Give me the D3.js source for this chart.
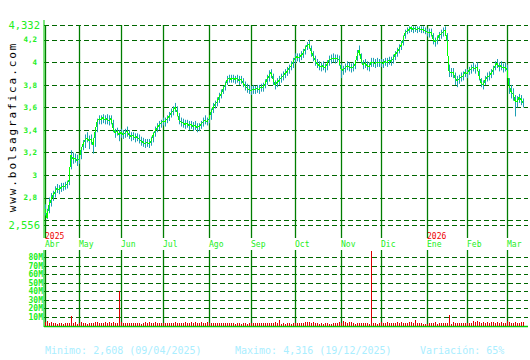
<!DOCTYPE html>
<html>
<head>
<meta charset="utf-8">
<script src="https://cdn.jsdelivr.net/npm/d3@7"></script>
<style>
  body { margin: 0; background: #fff; }
  svg { display: block; }
</style>
</head>
<body>
<script>
// Daily closes (one per trading day, Apr 2025 - Mar 2026)
const closes = [
  2.70,2.62,2.73,2.78,2.82,2.85,2.88,2.87,2.89,2.90,
  2.90,2.92,2.95,3.18,3.14,3.15,3.13,3.14,3.22,3.27,
  3.31,3.33,3.30,3.32,3.27,3.38,3.47,3.50,3.49,3.51,
  3.49,3.50,3.48,3.50,3.42,3.37,3.39,3.36,3.38,3.36,
  3.37,3.39,3.36,3.34,3.35,3.33,3.34,3.32,3.30,3.29,
  3.28,3.29,3.28,3.30,3.35,3.39,3.42,3.44,3.46,3.48,
  3.47,3.50,3.52,3.55,3.57,3.60,3.56,3.49,3.47,3.46,
  3.45,3.46,3.44,3.45,3.43,3.44,3.42,3.43,3.45,3.47,
  3.49,3.47,3.50,3.56,3.60,3.63,3.65,3.69,3.72,3.76,
  3.80,3.84,3.86,3.85,3.86,3.85,3.86,3.84,3.85,3.82,
  3.79,3.77,3.76,3.75,3.76,3.76,3.77,3.76,3.78,3.78,
  3.81,3.85,3.88,3.91,3.85,3.80,3.82,3.84,3.86,3.88,
  3.90,3.92,3.95,3.97,4.00,4.04,4.05,4.04,4.06,4.08,
  4.12,4.15,4.16,4.10,4.06,4.02,3.99,3.97,3.96,3.97,
  3.95,3.98,4.02,4.03,4.04,4.03,4.04,4.02,3.94,3.93,
  3.95,3.97,3.96,3.95,3.96,3.98,4.06,4.11,4.03,3.98,
  3.99,3.97,3.96,4.00,4.00,3.99,4.00,4.00,4.00,3.99,
  4.01,4.00,4.02,4.01,4.03,4.07,4.09,4.12,4.15,4.20,
  4.26,4.28,4.29,4.31,4.29,4.30,4.29,4.30,4.29,4.29,
  4.28,4.27,4.26,4.27,4.21,4.18,4.20,4.24,4.25,4.27,
  4.29,4.19,3.92,3.91,3.91,3.86,3.84,3.85,3.87,3.88,
  3.91,3.90,3.93,3.94,3.96,3.94,3.96,3.88,3.82,3.80,
  3.84,3.87,3.88,3.90,3.93,3.97,3.99,3.96,3.97,3.95,
  3.96,3.93,3.80,3.74,3.72,3.66,3.65,3.69,3.67,3.64
];

const highs = [
  2.74,2.70,2.80,2.84,2.86,2.90,2.92,2.91,2.93,2.93,
  2.94,2.95,2.99,3.22,3.20,3.19,3.18,3.17,3.25,3.31,
  3.36,3.38,3.35,3.36,3.33,3.42,3.50,3.53,3.53,3.54,
  3.53,3.54,3.53,3.53,3.49,3.41,3.42,3.40,3.41,3.40,
  3.41,3.43,3.40,3.38,3.38,3.37,3.37,3.36,3.34,3.33,
  3.32,3.32,3.32,3.34,3.38,3.43,3.46,3.48,3.49,3.51,
  3.51,3.53,3.56,3.59,3.61,3.64,3.61,3.55,3.51,3.50,
  3.49,3.49,3.48,3.48,3.47,3.48,3.46,3.46,3.48,3.51,
  3.53,3.51,3.53,3.59,3.64,3.66,3.69,3.73,3.76,3.79,
  3.83,3.88,3.89,3.89,3.89,3.88,3.89,3.88,3.88,3.86,
  3.83,3.81,3.80,3.79,3.80,3.79,3.80,3.80,3.81,3.82,
  3.85,3.89,3.93,3.94,3.90,3.84,3.86,3.88,3.90,3.92,
  3.94,3.96,3.98,4.01,4.04,4.08,4.08,4.08,4.10,4.12,
  4.15,4.18,4.20,4.15,4.10,4.06,4.03,4.01,4.00,4.01,
  3.99,4.02,4.06,4.07,4.08,4.07,4.07,4.06,3.99,3.97,
  3.99,4.01,4.00,3.99,4.00,4.02,4.11,4.15,4.08,4.02,
  4.03,4.01,4.00,4.04,4.04,4.03,4.04,4.03,4.03,4.03,
  4.04,4.04,4.05,4.05,4.07,4.10,4.13,4.16,4.19,4.24,
  4.29,4.31,4.32,4.32,4.32,4.32,4.32,4.32,4.32,4.32,
  4.31,4.30,4.30,4.30,4.26,4.22,4.24,4.27,4.29,4.31,
  4.32,4.26,3.98,3.95,3.95,3.91,3.88,3.89,3.91,3.92,
  3.94,3.94,3.96,3.98,4.00,3.98,4.00,3.94,3.86,3.84,
  3.88,3.91,3.92,3.94,3.97,4.01,4.03,4.00,4.01,3.99,
  4.00,3.98,3.86,3.80,3.77,3.71,3.70,3.72,3.71,3.68
];

const lows = [
  2.64,2.61,2.66,2.72,2.77,2.80,2.84,2.83,2.85,2.86,
  2.87,2.88,2.91,3.05,3.10,3.11,3.08,3.10,3.14,3.22,
  3.24,3.29,3.23,3.27,3.19,3.25,3.38,3.45,3.45,3.46,
  3.45,3.45,3.44,3.45,3.38,3.33,3.35,3.30,3.33,3.32,
  3.33,3.34,3.32,3.30,3.31,3.29,3.30,3.28,3.26,3.25,
  3.24,3.25,3.24,3.26,3.29,3.34,3.38,3.40,3.42,3.44,
  3.43,3.46,3.48,3.51,3.53,3.56,3.52,3.45,3.43,3.42,
  3.41,3.42,3.40,3.41,3.39,3.40,3.38,3.39,3.41,3.43,
  3.45,3.44,3.46,3.49,3.55,3.59,3.61,3.64,3.68,3.72,
  3.75,3.80,3.82,3.82,3.82,3.81,3.82,3.80,3.81,3.78,
  3.75,3.73,3.72,3.71,3.72,3.72,3.73,3.72,3.74,3.74,
  3.77,3.80,3.83,3.86,3.80,3.76,3.78,3.80,3.82,3.84,
  3.86,3.88,3.90,3.93,3.95,3.99,4.01,4.00,4.02,4.04,
  4.07,4.11,4.12,4.05,4.01,3.97,3.95,3.93,3.92,3.93,
  3.91,3.93,3.97,3.99,4.00,3.99,4.00,3.97,3.86,3.89,
  3.91,3.93,3.92,3.91,3.92,3.94,4.01,4.06,3.99,3.94,
  3.95,3.93,3.92,3.96,3.96,3.95,3.96,3.96,3.96,3.95,
  3.97,3.96,3.98,3.97,3.99,4.02,4.05,4.08,4.11,4.15,
  4.21,4.25,4.26,4.27,4.26,4.27,4.26,4.27,4.26,4.26,
  4.25,4.23,4.22,4.23,4.16,4.14,4.16,4.20,4.21,4.23,
  4.25,4.15,3.87,3.87,3.86,3.80,3.78,3.81,3.83,3.84,
  3.87,3.86,3.89,3.90,3.92,3.90,3.92,3.84,3.78,3.76,
  3.80,3.83,3.84,3.86,3.89,3.93,3.95,3.92,3.93,3.91,
  3.92,3.88,3.72,3.68,3.66,3.52,3.60,3.64,3.62,3.60
];

// Volume in millions
const volumes = [
  4,5,3,4,3,3,2,3,3,2,
  3,3,3,11,3,4,2,3,4,3,
  3,2,3,3,3,4,4,3,3,3,
  4,3,4,3,4,3,3,41,4,3,
  3,3,3,3,3,3,3,3,2,3,
  4,3,4,3,3,4,3,3,3,3,
  3,3,3,3,3,4,3,3,3,3,
  4,3,3,4,3,4,3,3,4,3,
  3,4,3,3,3,3,3,3,3,3,
  3,3,3,3,3,2,3,3,2,3,
  3,2,3,3,3,3,3,3,3,3,
  3,3,3,3,3,4,3,6,2,3,
  2,3,3,2,3,3,3,3,3,3,
  4,4,4,3,4,3,3,2,3,2,
  3,3,2,2,3,3,3,4,3,5,
  4,3,4,4,3,2,3,3,3,3,
  3,3,2,91,3,3,2,3,4,3,
  3,4,3,3,3,3,4,3,4,3,
  3,3,4,4,3,6,3,3,3,2,
  2,2,3,3,3,4,2,3,3,3,
  3,3,12,2,4,3,3,3,3,3,
  3,3,3,3,5,4,5,4,3,4,
  3,4,3,4,4,3,4,3,4,3,
  3,5,4,3,3,4,3,3,4,4
];

const monthLabels = ["Abr","May","Jun","Jul","Ago","Sep","Oct","Nov","Dic","Ene","Feb","Mar"];
const monthStart = [0,17,38,59,82,103,125,148,168,191,211,231];
const yearLabels = ["2025","2026"];
const yearStart = [0,191];

const priceMin = 2.556;
const priceMax = 4.332;
const priceTicks = [4.2,4,3.8,3.6,3.4,3.2,3,2.8];
const priceGrid = [4.332,4.2,4,3.8,3.6,3.4,3.2,3,2.8,2.6,2.556];
const volTicks = [10,20,30,40,50,60,70,80];

const footer = ["Minimo: 2,608 (09/04/2025)", "Maximo: 4,316 (19/12/2025)", "Variación: 65%"];
const footerX = [45, 235, 420];

// Layout
const W = 530, H = 360;
const left = 44, right = 528;
const mono = "'DejaVu Sans Mono', 'Liberation Mono', monospace";
const gridColor = "#006600";
const vlineColor = "#007d00";
const labelColor = "#22ee22";

const comma = d => String(d).replace(".", ",");

const svg = d3.select("body")
    .append("svg")
    .attr("width", W)
    .attr("height", H);

svg.append("rect")
    .attr("width", W)
    .attr("height", H)
    .attr("fill", "#fff");

// Scales
const x = d3.scaleLinear()
    .domain([0, closes.length - 1])
    .range([45, 523]);

const y = d3.scaleLinear()
    .domain([priceMin, priceMax])
    .range([225, 25]);

const v = d3.scaleLinear()
    .domain([0, 88])
    .range([325.5, 250.5])
    .clamp(true);

// Watermark
svg.append("text")
    .attr("transform", "translate(15.5,127) rotate(-90)")
    .attr("text-anchor", "middle")
    .style("font-family", mono)
    .style("font-size", "11px")
    .style("letter-spacing", "1.9px")
    .attr("fill", "#000")
    .text("www.bolsagrafica.com");

// Price grid
svg.append("g")
    .selectAll("line")
    .data(priceGrid)
    .enter()
    .append("line")
    .attr("x1", left)
    .attr("x2", right)
    .attr("y1", d => Math.round(y(d)) + 0.5)
    .attr("y2", d => Math.round(y(d)) + 0.5)
    .attr("stroke", gridColor)
    .attr("stroke-width", 1)
    .attr("stroke-dasharray", "5,3");

// Price labels
svg.append("g")
    .selectAll("text")
    .data(priceTicks)
    .enter()
    .append("text")
    .attr("x", 37)
    .attr("y", d => y(d))
    .attr("dy", "0.35em")
    .attr("text-anchor", "end")
    .style("font-family", mono)
    .style("font-size", "7.5px")
    .style("font-weight", "bold")
    .attr("fill", labelColor)
    .text(comma);

svg.append("g")
    .selectAll("text")
    .data([priceMax, priceMin])
    .enter()
    .append("text")
    .attr("x", 40)
    .attr("y", d => y(d))
    .attr("dy", "0.38em")
    .attr("text-anchor", "end")
    .style("font-family", mono)
    .style("font-size", "10.5px")
    .attr("fill", labelColor)
    .text(comma);

// Volume grid
svg.append("g")
    .selectAll("line")
    .data(volTicks)
    .enter()
    .append("line")
    .attr("x1", left)
    .attr("x2", right)
    .attr("y1", d => Math.round(v(d)) + 0.5)
    .attr("y2", d => Math.round(v(d)) + 0.5)
    .attr("stroke", gridColor)
    .attr("stroke-width", 1)
    .attr("stroke-dasharray", "5,3");

svg.append("g")
    .selectAll("text")
    .data(volTicks)
    .enter()
    .append("text")
    .attr("x", 43)
    .attr("y", d => v(d))
    .attr("dy", "0.35em")
    .attr("text-anchor", "end")
    .style("font-family", mono)
    .style("font-size", "8px")
    .style("font-weight", "bold")
    .attr("fill", labelColor)
    .text(d => d + "M");

// Month lines (price and volume panels)
svg.append("g")
    .selectAll("line")
    .data(monthStart)
    .enter()
    .append("line")
    .attr("x1", d => Math.round(x(d)) + 0.5)
    .attr("x2", d => Math.round(x(d)) + 0.5)
    .attr("y1", 25)
    .attr("y2", 238)
    .attr("stroke", vlineColor)
    .attr("stroke-width", 1.3);

svg.append("g")
    .selectAll("line")
    .data(monthStart)
    .enter()
    .append("line")
    .attr("x1", d => Math.round(x(d)) + 0.5)
    .attr("x2", d => Math.round(x(d)) + 0.5)
    .attr("y1", 250)
    .attr("y2", 326)
    .attr("stroke", vlineColor)
    .attr("stroke-width", 1.3);

// Month and year labels
svg.append("g")
    .selectAll("text")
    .data(monthStart)
    .enter()
    .append("text")
    .attr("x", d => x(d))
    .attr("y", 247)
    .style("font-family", mono)
    .style("font-size", "8px")
    .attr("fill", labelColor)
    .text((d, i) => monthLabels[i]);

svg.append("g")
    .selectAll("text")
    .data(yearStart)
    .enter()
    .append("text")
    .attr("x", d => x(d))
    .attr("y", 239)
    .style("font-family", mono)
    .style("font-size", "8px")
    .attr("fill", "#ee0000")
    .text((d, i) => yearLabels[i]);

// Axis lines
svg.append("line")
    .attr("x1", 44).attr("x2", 44)
    .attr("y1", 20).attr("y2", 238)
    .attr("stroke", "#00cc00");

svg.append("line")
    .attr("x1", 44).attr("x2", 44)
    .attr("y1", 250).attr("y2", 327)
    .attr("stroke", "#00cc00");

// Volume bars
svg.append("line")
    .attr("x1", 44).attr("x2", right)
    .attr("y1", 326.5).attr("y2", 326.5)
    .attr("stroke", "#00cc00")
    .attr("stroke-width", 1.5);

svg.append("g")
    .selectAll("rect")
    .data(volumes)
    .enter()
    .append("rect")
    .attr("x", (d, i) => Math.round(x(i)))
    .attr("width", 1)
    .attr("y", d => Math.round(v(d)))
    .attr("height", d => 326 - Math.round(v(d)))
    .attr("fill", "#dd0000")
    .style("shape-rendering", "crispEdges");

// High-low bars
svg.append("g")
    .selectAll("line")
    .data(closes)
    .enter()
    .append("line")
    .attr("x1", (d, i) => Math.round(x(i)) + 0.5)
    .attr("x2", (d, i) => Math.round(x(i)) + 0.5)
    .attr("y1", (d, i) => y(highs[i]))
    .attr("y2", (d, i) => y(lows[i]))
    .attr("stroke", "#1ea0b4")
    .attr("stroke-width", 1);

// Close line
svg.append("path")
    .datum(closes)
    .attr("fill", "none")
    .attr("stroke", "#00ff00")
    .attr("stroke-width", 1)
    .style("shape-rendering", "crispEdges")
    .attr("d", d3.line()
        .x((d, i) => x(i))
        .y(d => y(d))
    );

// Footer stats
svg.append("g")
    .selectAll("text")
    .data(footer)
    .enter()
    .append("text")
    .attr("x", (d, i) => footerX[i])
    .attr("y", 354)
    .style("font-family", mono)
    .style("font-size", "10px")
    .attr("fill", "#aaeeff")
    .text(d => d);
</script>
</body>
</html>
